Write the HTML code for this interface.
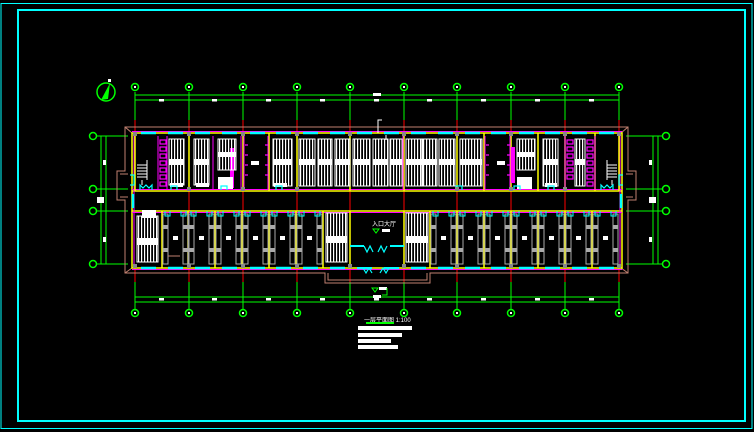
<!DOCTYPE html>
<html><head><meta charset="utf-8"><style>
html,body{margin:0;padding:0;background:#000;width:754px;height:432px;overflow:hidden}
svg{display:block}
text{font-family:"Liberation Sans","Noto Sans CJK SC",sans-serif;fill:#fff}
</style></head><body>
<svg width="754" height="432" viewBox="0 0 754 432" xmlns="http://www.w3.org/2000/svg">
<defs>
<pattern id="v" width="3" height="10" patternUnits="userSpaceOnUse"><rect x="0" y="0" width="1.2" height="10" fill="#fff"/></pattern>
<g id="bay">
<rect x="1" y="214" width="5" height="50" fill="none" stroke="#aaa" stroke-width="1"/>
<rect x="21" y="214" width="5" height="50" fill="none" stroke="#aaa" stroke-width="1"/>
<rect x="1" y="225" width="5" height="4" fill="#aaa"/><rect x="21" y="225" width="5" height="4" fill="#aaa"/>
<rect x="1" y="248" width="5" height="4" fill="#aaa"/><rect x="21" y="248" width="5" height="4" fill="#aaa"/>
<rect x="11" y="236" width="5" height="4" fill="#fff"/>
<path d="M3 211 v5 h5 v-5 M19 211 v5 h5 v-5" fill="none" stroke="#0ff" stroke-width="1"/>
</g>
</defs>
<rect width="754" height="432" fill="#000"/>
<!-- frames -->
<rect x="1" y="3.5" width="751" height="425" fill="none" stroke="#0ff" stroke-width="1"/>
<rect x="18" y="10" width="727" height="411" fill="none" stroke="#0ff" stroke-width="2"/>

<!-- north arrow -->
<circle cx="106" cy="92" r="9" fill="none" stroke="#0f0" stroke-width="1.5"/>
<path d="M101 100 L110 83 L108 99 Z" fill="#0f0"/>
<rect x="108" y="79" width="3" height="3" fill="#fff"/>

<!-- dimension lines top / bottom -->
<g stroke="#0f0" stroke-width="1" fill="none">
<line x1="135" y1="95" x2="619" y2="95"/><line x1="135" y1="100" x2="619" y2="100"/>
<line x1="135" y1="297" x2="619" y2="297"/><line x1="135" y1="302" x2="619" y2="302"/>
<line x1="101" y1="136" x2="101" y2="264"/><line x1="106" y1="136" x2="106" y2="264"/>
<line x1="653" y1="136" x2="653" y2="264"/><line x1="658" y1="136" x2="658" y2="264"/>
</g>
<g fill="#fff">
<rect x="373" y="93" width="8" height="3"/><rect x="373" y="295" width="8" height="3"/>
<rect x="159" y="99" width="5" height="2.5"/><rect x="212" y="99" width="5" height="2.5"/><rect x="266" y="99" width="5" height="2.5"/><rect x="320" y="99" width="5" height="2.5"/><rect x="374" y="99" width="5" height="2.5"/><rect x="427" y="99" width="5" height="2.5"/><rect x="481" y="99" width="5" height="2.5"/><rect x="535" y="99" width="5" height="2.5"/><rect x="589" y="99" width="5" height="2.5"/>
<rect x="159" y="298" width="5" height="2.5"/><rect x="212" y="298" width="5" height="2.5"/><rect x="266" y="298" width="5" height="2.5"/><rect x="320" y="298" width="5" height="2.5"/><rect x="374" y="298" width="5" height="2.5"/><rect x="427" y="298" width="5" height="2.5"/><rect x="481" y="298" width="5" height="2.5"/><rect x="535" y="298" width="5" height="2.5"/><rect x="589" y="298" width="5" height="2.5"/>
<rect x="103" y="160" width="3" height="5"/><rect x="97" y="197" width="7" height="6"/><rect x="103" y="237" width="3" height="5"/>
<rect x="649" y="160" width="3" height="5"/><rect x="649" y="197" width="7" height="6"/><rect x="649" y="237" width="3" height="5"/>
</g>

<!-- grid axes vertical -->
<g stroke-width="1">
<g stroke="#0f0">
<path d="M135 92V120M189 92V120M243 92V120M297 92V120M350 92V120M404 92V120M457 92V120M511 92V120M565 92V120M619 92V120"/>
<path d="M135 282V309M189 282V309M243 282V309M297 282V309M350 282V309M404 282V309M457 282V309M511 282V309M565 282V309M619 282V309"/>
<path d="M97 136H128M97 189H128M97 211H128M97 264H128M626 136H662M626 189H662M626 211H662M626 264H662"/>
</g>
<g stroke="#f00">
<path d="M135 120V133M189 120V133M243 120V133M297 120V133M350 120V133M404 120V133M457 120V133M511 120V133M565 120V133M619 120V133"/>
<path d="M135 268V282M189 268V282M243 268V282M297 268V282M350 268V282M404 268V282M457 268V282M511 268V282M565 268V282M619 268V282"/>
<path d="M189 191V211M243 191V211M297 191V211M457 191V211M511 191V211M565 191V211"/>
<path d="M350 120V268M404 120V268"/>
</g>
</g>
<!-- axis circles -->
<g fill="#000" stroke="#0f0" stroke-width="1.5">
<circle cx="135" cy="87" r="3.5"/><circle cx="189" cy="87" r="3.5"/><circle cx="243" cy="87" r="3.5"/><circle cx="297" cy="87" r="3.5"/><circle cx="350" cy="87" r="3.5"/><circle cx="404" cy="87" r="3.5"/><circle cx="457" cy="87" r="3.5"/><circle cx="511" cy="87" r="3.5"/><circle cx="565" cy="87" r="3.5"/><circle cx="619" cy="87" r="3.5"/>
<circle cx="135" cy="313" r="3.5"/><circle cx="189" cy="313" r="3.5"/><circle cx="243" cy="313" r="3.5"/><circle cx="297" cy="313" r="3.5"/><circle cx="350" cy="313" r="3.5"/><circle cx="404" cy="313" r="3.5"/><circle cx="457" cy="313" r="3.5"/><circle cx="511" cy="313" r="3.5"/><circle cx="565" cy="313" r="3.5"/><circle cx="619" cy="313" r="3.5"/>
<circle cx="93" cy="136" r="3.5"/><circle cx="93" cy="189" r="3.5"/><circle cx="93" cy="211" r="3.5"/><circle cx="93" cy="264" r="3.5"/>
<circle cx="666" cy="136" r="3.5"/><circle cx="666" cy="189" r="3.5"/><circle cx="666" cy="211" r="3.5"/><circle cx="666" cy="264" r="3.5"/>
</g>
<g fill="#fff">
<rect x="134" y="86" width="2" height="2"/><rect x="188" y="86" width="2" height="2"/><rect x="242" y="86" width="2" height="2"/><rect x="296" y="86" width="2" height="2"/><rect x="349" y="86" width="2" height="2"/><rect x="403" y="86" width="2" height="2"/><rect x="456" y="86" width="2" height="2"/><rect x="510" y="86" width="2" height="2"/><rect x="564" y="86" width="2" height="2"/><rect x="618" y="86" width="2" height="2"/>
<rect x="134" y="312" width="2" height="2"/><rect x="188" y="312" width="2" height="2"/><rect x="242" y="312" width="2" height="2"/><rect x="296" y="312" width="2" height="2"/><rect x="349" y="312" width="2" height="2"/><rect x="403" y="312" width="2" height="2"/><rect x="456" y="312" width="2" height="2"/><rect x="510" y="312" width="2" height="2"/><rect x="564" y="312" width="2" height="2"/><rect x="618" y="312" width="2" height="2"/>
</g>

<!-- brown outline -->
<g fill="none" stroke="#c08070" stroke-width="1">
<path d="M125 127H628V171H636V200H628V273H430V283H325V273H125V200H117V171H125Z"/>
<path d="M328 273V280H427V273"/>
<path d="M120 174H128M120 197H128M626 174H633M626 197H633"/>
<path d="M125 127L132 133M628 127L621 133M125 273L132 268M628 273L621 268"/>
</g>

<!-- main walls -->
<g fill="none">
<rect x="132" y="133" width="490" height="135" stroke="#ff0" stroke-width="1.5"/>
<path d="M132 131.5H622M132 269.5H622" stroke="#f0f" stroke-width="1"/>
<path d="M132 189.5H622M132 212.5H622" stroke="#f0f" stroke-width="1"/>
<path d="M132 191H622M132 211H622" stroke="#ff0" stroke-width="1.5"/>
<path d="M134 133V268M620 133V268" stroke="#f0f" stroke-width="1"/>
</g>
<!-- cyan windows -->
<g stroke="#0ff" stroke-width="2.5">
<path d="M141 133H156M168 133H183M195 133H210M222 133H237M250 133H265M276 133H291M303 133H318M330 133H345M357 133H372M384 133H399M411 133H426M438 133H453M465 133H480M491 133H506M519 133H534M545 133H560M572 133H587M599 133H614"/>
<path d="M141 268H156M168 268H183M195 268H210M222 268H237M250 268H265M276 268H291M303 268H318M330 268H345M357 268H372M384 268H399M411 268H426M438 268H453M465 268H480M491 268H506M519 268H534M545 268H560M572 268H587M599 268H614"/>
<path d="M133 194V208M621 194V208"/>
</g>
<!-- room partitions top -->
<g stroke="#ff0" stroke-width="1.5">
<path d="M135 133V191M189 133V191M243 133V191M269 133V191M297 133V191M350 133V191M404 133V191M457 133V191M484 133V191M511 133V191M538 133V191M565 133V191M595 133V191M619 133V191"/>
<path d="M162 211V268M188 211V268M215 211V268M242 211V268M269 211V268M296 211V268M323 211V268M350 211V268M404 211V268M430 211V268M457 211V268M484 211V268M511 211V268M538 211V268M565 211V268M592 211V268"/>
</g>
<g stroke="#f0f" stroke-width="1">
<path d="M158 136V190M167 136V190M213 136V190M241 136V190M244 136V190M268 136V190M485 136V190M510 136V190M565 136V190M595 136V190M403 136V190"/>
</g>
<!-- magenta stalls -->
<g fill="none" stroke="#f0f" stroke-width="1.2">
<rect x="160" y="140" width="6" height="4"/><rect x="160" y="147" width="6" height="4"/><rect x="160" y="154" width="6" height="4"/><rect x="160" y="161" width="6" height="4"/><rect x="160" y="168" width="6" height="4"/><rect x="160" y="175" width="6" height="4"/><rect x="160" y="182" width="6" height="4"/>
<rect x="587" y="140" width="6" height="4"/><rect x="587" y="147" width="6" height="4"/><rect x="587" y="154" width="6" height="4"/><rect x="587" y="161" width="6" height="4"/><rect x="587" y="168" width="6" height="4"/><rect x="587" y="175" width="6" height="4"/><rect x="587" y="182" width="6" height="4"/>
<rect x="567" y="140" width="6" height="4"/><rect x="567" y="147" width="6" height="4"/><rect x="567" y="154" width="6" height="4"/><rect x="567" y="161" width="6" height="4"/><rect x="567" y="168" width="6" height="4"/><rect x="567" y="175" width="6" height="4"/>
<path d="M245 145h3M245 155h3M245 165h3M245 175h3M265 145h3M265 155h3M265 165h3M265 175h3M486 145h3M486 155h3M486 165h3M486 175h3M507 145h3M507 155h3M507 165h3M507 175h3"/>
</g>
<rect x="511" y="147" width="4" height="36" fill="#f0f"/>
<rect x="230" y="148" width="4" height="40" fill="#f0f"/>

<!-- top beds -->
<g stroke="#fff" stroke-width="1" fill="url(#v)">
<rect x="169" y="139" width="15" height="46"/><rect x="194" y="139" width="15" height="46"/><rect x="218" y="139" width="18" height="31"/>
<rect x="273" y="139" width="19" height="47"/><rect x="299" y="139" width="16" height="47"/><rect x="318" y="139" width="14" height="47"/><rect x="335" y="139" width="15" height="47"/><rect x="353" y="139" width="17" height="47"/><rect x="373" y="139" width="15" height="47"/><rect x="390" y="139" width="12" height="47"/>
<rect x="406" y="139" width="16" height="47"/><rect x="423" y="139" width="14" height="47"/><rect x="439" y="139" width="16" height="47"/><rect x="460" y="139" width="22" height="47"/>
<rect x="517" y="139" width="18" height="31"/><rect x="543" y="139" width="15" height="47"/><rect x="575" y="139" width="10" height="47"/>
<rect x="137" y="216" width="21" height="46"/><rect x="326" y="213" width="21" height="49"/><rect x="406" y="213" width="22" height="49"/>
</g>
<g fill="#fff">
<rect x="169" y="159" width="15" height="6"/><rect x="194" y="159" width="15" height="6"/><rect x="218" y="152" width="18" height="5"/>
<rect x="273" y="159" width="19" height="6"/><rect x="299" y="159" width="16" height="6"/><rect x="318" y="159" width="14" height="6"/><rect x="335" y="159" width="15" height="6"/><rect x="353" y="159" width="17" height="6"/><rect x="373" y="159" width="15" height="6"/><rect x="390" y="159" width="12" height="6"/>
<rect x="406" y="159" width="16" height="6"/><rect x="423" y="159" width="14" height="6"/><rect x="439" y="159" width="16" height="6"/><rect x="460" y="159" width="22" height="6"/>
<rect x="517" y="152" width="18" height="5"/><rect x="543" y="159" width="15" height="6"/><rect x="575" y="159" width="10" height="6"/>
<rect x="137" y="238" width="21" height="7"/><rect x="326" y="236" width="21" height="7"/><rect x="406" y="236" width="22" height="7"/>
<rect x="142" y="210" width="14" height="8"/>
<rect x="218" y="177" width="15" height="12"/><rect x="517" y="177" width="15" height="12"/>
<rect x="251" y="161" width="8" height="4"/><rect x="497" y="161" width="8" height="4"/>
<rect x="170" y="183" width="13" height="4"/><rect x="196" y="183" width="13" height="4"/><rect x="274" y="183" width="13" height="4"/><rect x="545" y="183" width="12" height="4"/>
</g>
<!-- stairs ends -->
<g stroke="#fff" fill="none" stroke-width="1">
<path d="M137 165h10M137 168h10M137 171h10M137 174h10M137 177h10M147 160v20M142 180v5"/>
<path d="M607 165h10M607 168h10M607 171h10M607 174h10M607 177h10M607 160v20M612 180v5"/>
</g>
<g stroke="#0ff" fill="none" stroke-width="1.2">
<path d="M140 190v-5l3 3 3-3 3 3 3-3v5M130 175h4v10h-4M623 175h-4v10h4M601 190v-5l3 3 3-3 3 3 3-3v5"/>
<path d="M171 190v-4h6v4M221 190v-4h6v4M276 190v-4h6v4M456 190v-4h6v4M514 190v-4h6v4M548 190v-4h6v4"/>
</g>

<!-- lower bays -->
<use href="#bay" x="162"/><use href="#bay" x="188"/><use href="#bay" x="215"/><use href="#bay" x="242"/><use href="#bay" x="269"/><use href="#bay" x="296"/>
<use href="#bay" x="430"/><use href="#bay" x="457"/><use href="#bay" x="484"/><use href="#bay" x="511"/><use href="#bay" x="538"/><use href="#bay" x="565"/><use href="#bay" x="592"/>
<path d="M168 256h12" stroke="#c08070"/>

<!-- central hall -->
<rect x="351" y="213" width="52" height="54" fill="#000"/>
<g stroke="#0ff" stroke-width="2" fill="none">
<path d="M350 246h14M390 246h14"/>
<path d="M364 246l3 6 3-6 3 6M378 252l3-6 3 6 3-6" stroke-width="1.2"/>
<path d="M363 268l3 5 3-5 3 5M380 273l3-5 3 5 3-5" stroke-width="1.2"/>
</g>
<text x="372" y="226" font-size="6">入口大厅</text>
<rect x="382" y="229" width="8" height="3" fill="#fff"/>
<path d="M373 229h6l-3 4z" fill="none" stroke="#0f0"/>
<path d="M378 133v-13h4M386 140v-5" stroke="#fff" fill="none"/>
<rect x="379" y="287" width="8" height="3" fill="#fff"/>
<path d="M372 288h6l-3 4zM387 288v7h-5" fill="none" stroke="#0f0"/>

<!-- columns -->
<g fill="#888">
<rect x="133" y="132" width="4" height="4"/><rect x="187" y="132" width="4" height="4"/><rect x="241" y="132" width="4" height="4"/><rect x="295" y="132" width="4" height="4"/><rect x="348" y="132" width="4" height="4"/><rect x="402" y="132" width="4" height="4"/><rect x="455" y="132" width="4" height="4"/><rect x="509" y="132" width="4" height="4"/><rect x="563" y="132" width="4" height="4"/><rect x="617" y="132" width="4" height="4"/>
<rect x="187" y="187" width="4" height="4"/><rect x="241" y="187" width="4" height="4"/><rect x="295" y="187" width="4" height="4"/><rect x="455" y="187" width="4" height="4"/><rect x="509" y="187" width="4" height="4"/><rect x="563" y="187" width="4" height="4"/>
<rect x="133" y="264" width="4" height="4"/><rect x="187" y="264" width="4" height="4"/><rect x="241" y="264" width="4" height="4"/><rect x="295" y="264" width="4" height="4"/><rect x="348" y="264" width="4" height="4"/><rect x="402" y="264" width="4" height="4"/><rect x="455" y="264" width="4" height="4"/><rect x="509" y="264" width="4" height="4"/><rect x="563" y="264" width="4" height="4"/><rect x="617" y="264" width="4" height="4"/>
</g>

<!-- title block -->
<text x="364" y="322" font-size="6">一层平面图 1:100</text>
<rect x="366" y="322" width="28" height="2" fill="#0f0"/>
<g fill="#fff">
<rect x="358" y="326" width="54" height="4"/>
<rect x="358" y="333" width="44" height="4"/>
<rect x="358" y="339" width="33" height="4"/>
<rect x="358" y="345" width="40" height="4"/>
</g>
</svg>
</body></html>
